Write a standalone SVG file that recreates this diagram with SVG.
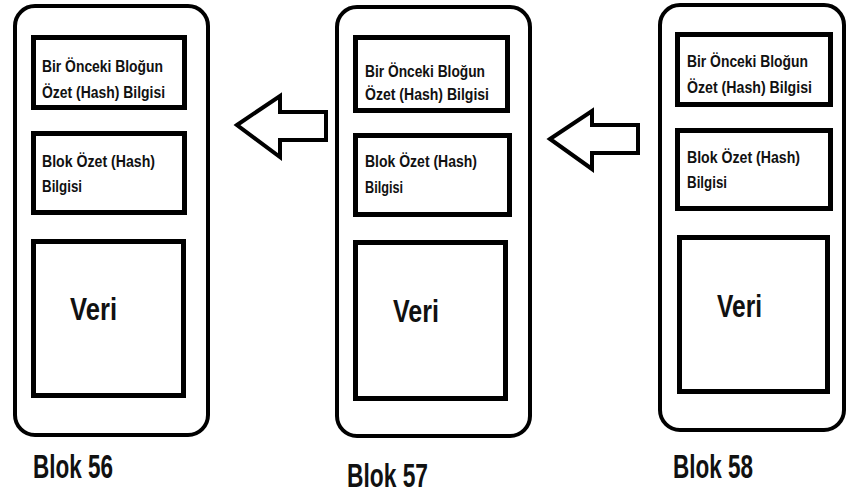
<svg xmlns="http://www.w3.org/2000/svg" width="849" height="494" viewBox="0 0 849 494">
  <style>
    .outer { fill: #fff; stroke: #000; stroke-width: 4; }
    .inner { fill: #fff; stroke: #000; stroke-width: 5; }
    .arrow { fill: #fff; stroke: #000; stroke-width: 4; stroke-linejoin: miter; }
    text { font-family: "Liberation Sans", Arial, sans-serif; font-weight: bold; fill: #111; }
    .small { font-size: 17px; }
    .veri { font-size: 31px; }
    .label { font-size: 33px; }
  </style>
  <rect width="849" height="494" fill="#fff"/>

  <!-- Block 56 -->
  <g id="blok56">
    <rect class="outer" x="15" y="6" width="193" height="429" rx="20"/>
    <rect class="inner" x="33.5" y="37.5" width="151" height="70"/>
    <text class="small" x="42" y="72" textLength="121" lengthAdjust="spacingAndGlyphs">Bir Önceki Bloğun</text>
    <text class="small" x="42" y="98" textLength="123" lengthAdjust="spacingAndGlyphs">Özet (Hash) Bilgisi</text>
    <rect class="inner" x="33.5" y="133.5" width="151" height="79"/>
    <text class="small" x="42" y="167" textLength="113" lengthAdjust="spacingAndGlyphs">Blok Özet (Hash)</text>
    <text class="small" x="42" y="192" textLength="40" lengthAdjust="spacingAndGlyphs">Bilgisi</text>
    <rect class="inner" x="33.5" y="241.5" width="150" height="154"/>
    <text class="veri" x="70" y="320" textLength="47" lengthAdjust="spacingAndGlyphs">Veri</text>
    <text class="label" x="33" y="478" textLength="80" lengthAdjust="spacingAndGlyphs">Blok 56</text>
  </g>

  <!-- Block 57 -->
  <g id="blok57">
    <rect class="outer" x="337" y="7" width="193" height="429" rx="20"/>
    <rect class="inner" x="355.5" y="37.5" width="152" height="73"/>
    <text class="small" x="365" y="77" textLength="120" lengthAdjust="spacingAndGlyphs">Bir Önceki Bloğun</text>
    <text class="small" x="365" y="100" textLength="124" lengthAdjust="spacingAndGlyphs">Özet (Hash) Bilgisi</text>
    <rect class="inner" x="355.5" y="135.5" width="154" height="79"/>
    <text class="small" x="365" y="167" textLength="112" lengthAdjust="spacingAndGlyphs">Blok Özet (Hash)</text>
    <text class="small" x="365" y="193" textLength="38" lengthAdjust="spacingAndGlyphs">Bilgisi</text>
    <rect class="inner" x="355.5" y="242.5" width="150" height="156"/>
    <text class="veri" x="393" y="322" textLength="46" lengthAdjust="spacingAndGlyphs">Veri</text>
    <text class="label" x="347" y="487" textLength="81" lengthAdjust="spacingAndGlyphs">Blok 57</text>
  </g>

  <!-- Block 58 -->
  <g id="blok58">
    <rect class="outer" x="660" y="5" width="184" height="425" rx="20"/>
    <rect class="inner" x="677.5" y="34.5" width="153" height="70"/>
    <text class="small" x="687" y="67" textLength="121" lengthAdjust="spacingAndGlyphs">Bir Önceki Bloğun</text>
    <text class="small" x="687" y="93" textLength="125" lengthAdjust="spacingAndGlyphs">Özet (Hash) Bilgisi</text>
    <rect class="inner" x="677.5" y="130.5" width="153" height="78"/>
    <text class="small" x="687" y="163" textLength="113" lengthAdjust="spacingAndGlyphs">Blok Özet (Hash)</text>
    <text class="small" x="687" y="188" textLength="40" lengthAdjust="spacingAndGlyphs">Bilgisi</text>
    <rect class="inner" x="679.5" y="237.5" width="148" height="154"/>
    <text class="veri" x="717" y="317" textLength="45" lengthAdjust="spacingAndGlyphs">Veri</text>
    <text class="label" x="673" y="478" textLength="80" lengthAdjust="spacingAndGlyphs">Blok 58</text>
  </g>

  <!-- Block arrows pointing to the previous block -->
  <g id="connectors">
    <polygon class="arrow" points="237,125 280,96 280,112 326,112 326,140 280,140 280,157"/>
    <polygon class="arrow" points="550,139 592,111 592,125 638,125 638,153 592,153 592,169"/>
  </g>
</svg>
